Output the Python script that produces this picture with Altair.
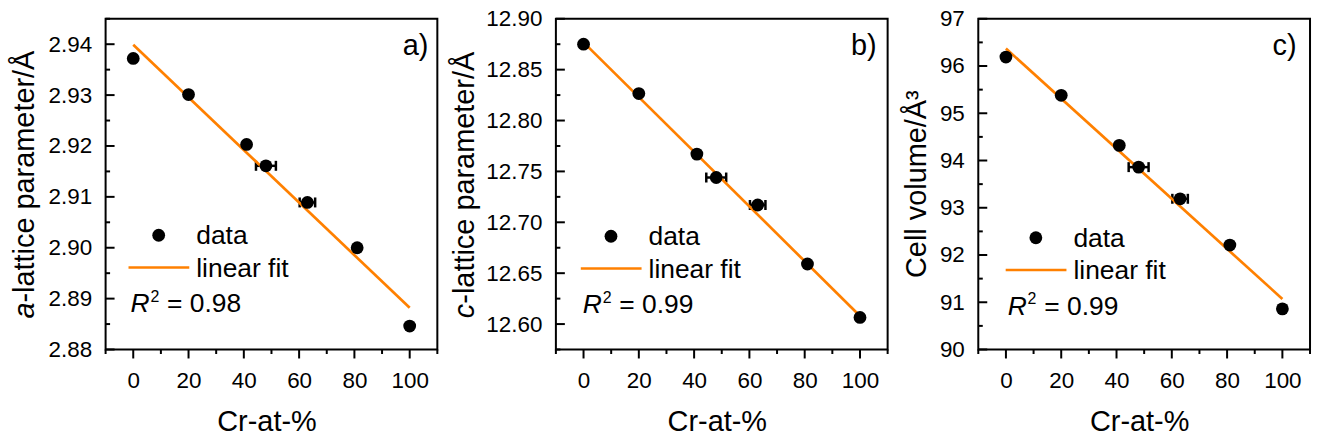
import altair as alt
import pandas as pd

# ---------------- data ----------------
cr = [0, 20, 41, 48, 63, 81, 100]
cr_err = [0, 0, 0, 3.6, 2.8, 0, 0]

a_lattice = [2.9372, 2.9301, 2.9203, 2.9161, 2.9089, 2.9000, 2.8846]
c_lattice = [12.875, 12.8265, 12.767, 12.744, 12.717, 12.659, 12.6065]
cell_volume = [96.19, 95.38, 94.32, 93.86, 93.19, 92.21, 90.86]

fit_x = [0, 100]
a_fit = [2.9399, 2.8882]
c_fit = [12.8768, 12.608]
v_fit = [96.37, 91.07]

a_ticks = [2.88, 2.89, 2.90, 2.91, 2.92, 2.93, 2.94]
c_ticks = [12.60, 12.65, 12.70, 12.75, 12.80, 12.85, 12.90]
v_ticks = [90, 91, 92, 93, 94, 95, 96, 97]
x_ticks = [0, 20, 40, 60, 80, 100]
x_minor = [-10, 10, 30, 50, 70, 90, 110]

r2_texts = ["= 0.98", "= 0.99", "= 0.99"]
panel_labels = ["a)", "b)", "c)"]

FONT = "Liberation Sans"
ORANGE = "#ff8000"
W, H = 333, 332
DOT = 165


def minor_of(ticks, domain):
    step = ticks[1] - ticks[0]
    vals = [t - step / 2 for t in ticks] + [ticks[-1] + step / 2]
    return [v for v in vals if domain[0] - 1e-9 <= v <= domain[1] + 1e-9]


def panel(vals, fit, ydomain, yticks, yfmt, title_parts, label, r2, off):
    dx, dy = off
    xscale = alt.Scale(domain=[-10, 110], nice=False, zero=False)
    yscale = alt.Scale(domain=ydomain, nice=False, zero=False)
    xaxis = alt.Axis(values=x_ticks, ticks=False, tickSize=0, domain=False, grid=False,
                     labelPadding=20, labelFontSize=22.5, labelFont=FONT, labelColor="black",
                     title=None, labelFlush=False)
    yaxis = alt.Axis(values=yticks, format=yfmt, ticks=False, tickSize=0, domain=False, grid=False,
                     labelPadding=14, labelFontSize=22.5, labelFont=FONT, labelColor="black",
                     title=None, labelFlush=False)

    def X(f):
        return alt.X(f, type="quantitative", scale=xscale, axis=xaxis)

    def Y(f):
        return alt.Y(f, type="quantitative", scale=yscale, axis=yaxis)

    df = pd.DataFrame({
        "x": cr, "y": vals,
        "lo": [c - e for c, e in zip(cr, cr_err)],
        "hi": [c + e for c, e in zip(cr, cr_err)],
    })
    fdf = pd.DataFrame({"x": fit_x, "y": fit})
    base = alt.Chart(df)

    err = base.mark_rule(color="black", strokeWidth=2.5).encode(x=X("lo"), x2="hi", y=Y("y"))
    cap_lo = base.mark_tick(orient="vertical", size=10, thickness=2.5, color="black", opacity=1).encode(x=X("lo"), y=Y("y"))
    cap_hi = base.mark_tick(orient="vertical", size=10, thickness=2.5, color="black", opacity=1).encode(x=X("hi"), y=Y("y"))
    pts = base.mark_circle(size=DOT, color="black", opacity=1).encode(x=X("x"), y=Y("y"))
    fitl = alt.Chart(fdf).mark_line(color=ORANGE, strokeWidth=2.7).encode(x=X("x"), y=Y("y"))

    ytk = alt.Chart(pd.DataFrame({"v": yticks})).mark_rule(color="black", strokeWidth=2).encode(
        y=Y("v"), x=alt.value(0), x2=alt.value(9))
    ytm = alt.Chart(pd.DataFrame({"v": minor_of(yticks, ydomain)})).mark_rule(color="black", strokeWidth=2).encode(
        y=Y("v"), x=alt.value(0), x2=alt.value(4.5))
    xtk = alt.Chart(pd.DataFrame({"v": x_ticks})).mark_rule(color="black", strokeWidth=2).encode(
        x=X("v"), y=alt.value(H), y2=alt.value(H + 9))
    xtm = alt.Chart(pd.DataFrame({"v": x_minor})).mark_rule(color="black", strokeWidth=2).encode(
        x=X("v"), y=alt.value(H), y2=alt.value(H + 4.5))

    one = alt.Chart(pd.DataFrame({"k": [0]}))

    def txt(t, x, y, size, align="left", style="normal", angle=0):
        kw = dict(text=t, align=align, baseline="alphabetic", fontSize=size, font=FONT,
                  color="black", fontStyle=style)
        if angle:
            kw["angle"] = angle
        return one.mark_text(**kw).encode(x=alt.value(x), y=alt.value(y))

    leg_dot = one.mark_circle(size=DOT, color="black", opacity=1).encode(
        x=alt.value(53.3 + dx), y=alt.value(217.3 + dy))
    leg_line = one.mark_rule(color=ORANGE, strokeWidth=2.7).encode(
        x=alt.value(23 + dx), x2=alt.value(84 + dx), y=alt.value(249.7 + dy))
    t_data = txt("data", 91 + dx, 226.3 + dy, 26.5)
    t_fit = txt("linear fit", 91 + dx, 259 + dy, 26.5)
    t_r = txt("R", 25 + dx, 294.7 + dy, 26.5, style="italic")
    t_2 = txt("2", 45 + dx, 284 + dy, 16)
    t_eq = txt(r2, 61.7 + dx, 294.7 + dy, 26.5)
    t_lab = txt(label, 324 - dx, 36.3, 29, align="right")
    t_xt = txt("Cr-at-%", 162, 414, 29, align="center")

    ylayers = []
    for (t, ypos, xpos, style, align) in title_parts:
        ylayers.append(txt(t, xpos, ypos, 29, align=align, style=style, angle=270))

    return alt.layer(err, cap_lo, cap_hi, fitl, pts, ytk, ytm, xtk, xtm,
                     leg_dot, leg_line, t_data, t_fit, t_r, t_2, t_eq, t_lab, t_xt,
                     *ylayers).properties(width=W, height=H)


pa = panel(a_lattice, a_fit, [2.88, 2.945], a_ticks, ".2f",
           [("a", 301.0, -71.5, "italic", "left"),
            ("-lattice parameter/Å", 301.0 - 16.1, -71.5, "normal", "left")],
           panel_labels[0], r2_texts[0], (0, 0))
pb = panel(c_lattice, c_fit, [12.575, 12.90], c_ticks, ".2f",
           [("c", 300.5, -81.7, "italic", "left"),
            ("-lattice parameter/Å", 300.5 - 14.5, -81.7, "normal", "left")],
           panel_labels[1], r2_texts[1], (2, 1))
pc = panel(cell_volume, v_fit, [90, 97], v_ticks, "d",
           [("Cell volume/Å³", 166, -52, "normal", "center")],
           panel_labels[2], r2_texts[2], (4.5, 2.5))

chart = alt.hconcat(alt.hconcat(pa, pb, spacing=11), pc, spacing=13).properties(
    padding={"left": 10, "top": 6, "right": 5, "bottom": 0},
    background="white",
).configure_view(stroke="black", strokeWidth=2)

chart.save("out.html", embed_options={"renderer": "svg", "actions": False})
